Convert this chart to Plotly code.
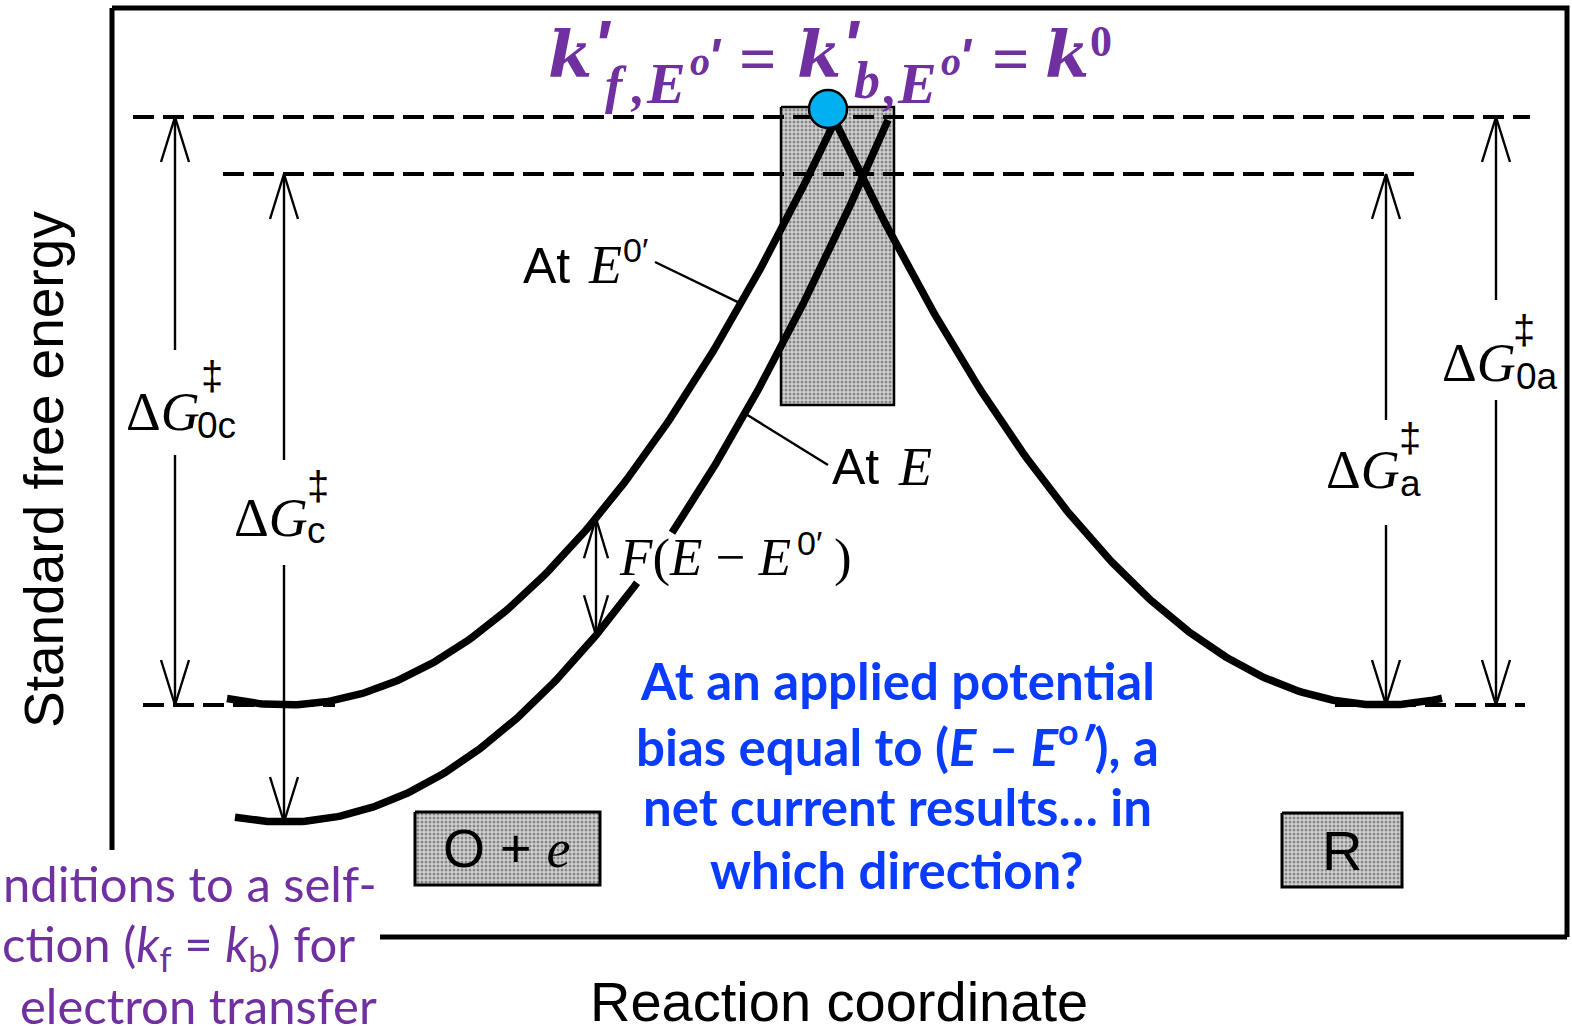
import numpy as np
import plotly.graph_objects as go

# ---- diagram data -------------------------------------------------------
# Reaction-coordinate positions of the wells and of the crossing at E0'
x_well_O = 285
x_well_R = 1383
x_cross_0 = 835

# Free energies (drawing units) of wells and reference levels
G_base = 0             # minima of O + e and R at E0'
G_well_O_at_E = -117   # O + e minimum lowered by F(E - E0')
G_cross_0 = 584        # crossing of the curves at E0'
G_level_0 = 588        # ΔG‡0 level
G_level_E = 531        # crossing level at E

# Horizontal extent of each free-energy curve
curve_O_E0_x = (227, x_cross_0)
curve_R_x = (x_cross_0, 1442)
curve_O_E_x = (235, 888)
curve_O_E_gap = (637, 672)

# Dashed reference levels (segments)
dash_G = [G_level_0, G_level_E, G_base, G_base]
dash_x0 = [133, 223, 143, 1335]
dash_x1 = [1530, 1420, 335, 1525]

# Barrier arrows: position, ends and the break left for the label
arrow_x = [175, 284, 1386, 1496]
arrow_top = [G_level_0, G_level_E, G_level_E, G_level_0]
arrow_bottom = [G_base, G_well_O_at_E, G_base, G_base]
arrow_gap = [(355, 250), (245, 140), (285, 180), (405, 305)]

# Labels of the barrier arrows: (ΔG left x, centre G, ‡ x, ‡ G, subscript, sub x, sub G)
barrier_labels = [
    (124, 293, 212, 329, "0c", 195, 280),
    (232, 187, 318, 219, "c", 305, 175),
    (1324, 235, 1410, 267, "a", 1398, 222),
    (1440, 342, 1524, 375, "0a", 1514, 329),
]

x_F_arrow = 596

# Curvatures fixed by the wells and the crossing at E0'
k_O = (G_cross_0 - G_base) / (x_cross_0 - x_well_O) ** 2
k_R = (G_cross_0 - G_base) / (x_cross_0 - x_well_R) ** 2


def G_O(x, shift=0.0):
    return shift + k_O * (np.asarray(x) - x_well_O) ** 2


def G_R(x):
    return G_base + k_R * (np.asarray(x) - x_well_R) ** 2


SANS = "Liberation Sans"
SERIF = "Liberation Serif"
PURPLE = "#7030A0"
BLUE = "#0A3CFF"

fig = go.Figure()


def add_line(xs, ys, width, dash=None):
    fig.add_trace(go.Scatter(x=xs, y=ys, mode="lines", hoverinfo="skip",
                             line=dict(color="black", width=width, dash=dash)))


def add_box(x0, x1, g0, g1, width=3):
    fig.add_trace(go.Scatter(
        x=[x0, x1, x1, x0, x0], y=[g0, g0, g1, g1, g0], mode="lines",
        fill="toself", hoverinfo="skip",
        fillcolor="#c4c4c4",
        fillpattern=dict(shape=".", fgcolor="#3c3c3c", bgcolor="#d2d2d2",
                         size=4, solidity=0.45),
        line=dict(color="black", width=width)))


def add_head(x, g_tip, direction, length=45, half=14):
    # open V arrowhead; direction +1 points up, -1 points down
    gb = g_tip - direction * length
    add_line([x - half, x, x + half], [gb, g_tip, gb], 2.4)


# shaded transition-state region
add_box(781, 894, 598, 300, width=2.5)

# frame
add_line([112, 112], [-145, 697], 5)
add_line([112, 1567, 1567], [697, 697, -232], 5)
add_line([380, 1567], [-232, -232], 5)

# dashed reference levels
for g, x0, x1 in zip(dash_G, dash_x0, dash_x1):
    add_line([x0, x1], [g, g], 4, dash="21px,9px")

# free-energy curves
xs = np.linspace(*curve_O_E0_x, 200)
add_line(xs, G_O(xs, G_base), 7.5)
xs = np.linspace(*curve_R_x, 200)
add_line(xs, G_R(xs), 7.5)
xa = np.linspace(curve_O_E_x[0], curve_O_E_gap[0], 150)
xb = np.linspace(curve_O_E_gap[1], curve_O_E_x[1], 150)
add_line(np.concatenate([xa, [None], xb]),
         np.concatenate([G_O(xa, G_well_O_at_E), [None], G_O(xb, G_well_O_at_E)]), 7.5)

# barrier arrows
for x, top, bot, (g_hi, g_lo) in zip(arrow_x, arrow_top, arrow_bottom, arrow_gap):
    add_line([x, x, None, x, x], [top, g_hi, None, g_lo, bot], 2.4)
    add_head(x, top, +1)
    add_head(x, bot, -1)

# F(E - E0') double arrow between the two O curves
g_up = float(G_O(x_F_arrow, G_base))
g_dn = float(G_O(x_F_arrow, G_well_O_at_E))
add_line([x_F_arrow, x_F_arrow], [g_up, g_dn], 2.4)
add_head(x_F_arrow, g_up, +1, length=40, half=12)
add_head(x_F_arrow, g_dn, -1, length=40, half=12)

# leader lines
add_line([655, 741], [443, float(G_O(741, G_base))], 2.4)
add_line([745, 828], [float(G_O(745, G_well_O_at_E)), 240], 2.4)

# reactant / product boxes
add_box(415, 600, -107, -180)
add_box(1282, 1402, -108, -182)

# rate-constant marker at the crossing
fig.add_trace(go.Scatter(x=[828], y=[596], mode="markers", hoverinfo="skip",
                         marker=dict(size=38, color="#00B0F0",
                                     line=dict(color="black", width=2.5))))

ann = []


def text(x, y, s, size, family=SANS, color="black", xanchor="left",
         yanchor="middle", angle=0):
    ann.append(dict(x=x, y=y, text=s, showarrow=False, xanchor=xanchor,
                    yanchor=yanchor, textangle=angle,
                    font=dict(family=family, size=size, color=color)))


# barrier labels
for dx, dg, hx, hg, sub, sx, sg in barrier_labels:
    text(dx, dg, "Δ<i>G</i>", 54, SERIF)
    text(hx, hg, "‡", 40, SANS, xanchor="center")
    text(sx, sg, sub, 37, SANS)

# curve labels
text(521, 439, "At", 50)
text(586, 440, "<i>E</i>", 54, SERIF)
text(621, 455, "0′", 34)
text(830, 238, "At", 50)
text(896, 238, "<i>E</i>", 54, SERIF)
text(617, 148, "<i>F</i>(<i>E</i> − <i>E</i>", 53, SERIF)
text(795, 162, "0′", 34)
text(832, 148, ")", 53, SERIF)

# axis titles
text(44, 235, "Standard free energy", 55, xanchor="center", angle=-90)
text(839, -296, "Reaction coordinate", 56, xanchor="center")

# species
text(507, -143, "O + <span style='font-family:Liberation Serif'><i>e</i></span>",
     54, xanchor="center")
text(1342, -145, "R", 56, xanchor="center")

# rate-constant equality, glyph by glyph
KFONT = "DejaVu Serif"
TICK = "Liberation Sans"
title_glyphs = [
    # (x, G, text, size, font, italic)
    (546, 652, "k", 64, KFONT, True), (591, 661, "'", 68, TICK, True),
    (603, 620, "f", 52, SERIF, True), (628, 619, ",", 52, SERIF, True),
    (644, 622, "E", 58, SERIF, True),
    (688, 644, "o", 40, SERIF, True), (706, 648, "'", 50, TICK, True),
    (737, 647, "=", 66, SERIF, False),
    (795, 652, "k", 64, KFONT, True), (840, 661, "'", 68, TICK, True),
    (852, 625, "b", 52, SERIF, True), (880, 619, ",", 52, SERIF, True),
    (895, 622, "E", 58, SERIF, True),
    (939, 644, "o", 40, SERIF, True), (957, 648, "'", 50, TICK, True),
    (990, 647, "=", 66, SERIF, False),
    (1043, 652, "k", 64, KFONT, True), (1088, 664, "0", 44, SERIF, False),
]
for x, g, s, size, fam, ital in title_glyphs:
    lab = "<b><i>" + s + "</i></b>" if ital else "<b>" + s + "</b>"
    text(x, g, lab, size, fam, PURPLE)

# question text
blue_lines = [
    "At an applied potential",
    "bias equal to (<i>E</i> – <i>E</i><sup>o</sup><i>′</i>), a",
    "net current results… in",
    "which direction?",
]
for s, g in zip(blue_lines, [25, -38, -101, -164]):
    text(897, g, "<b>" + s + "</b>", 51, "Lato", BLUE, xanchor="center")

# side note
purple_lines = [
    (1, -178, "nditions to a self-"),
    (0, -241, "ction (<i>k</i><sub>f</sub> = <i>k</i><sub>b</sub>) for"),
    (18, -300, "electron transfer"),
]
for x, g, s in purple_lines:
    text(x, g, s, 49, "Lato", PURPLE)

fig.update_layout(
    width=1572, height=1026,
    margin=dict(l=0, r=0, t=0, b=0),
    paper_bgcolor="white", plot_bgcolor="white",
    showlegend=False,
    xaxis=dict(range=[0, 1572], visible=False, fixedrange=True),
    yaxis=dict(range=[-321, 705], visible=False, fixedrange=True),
    annotations=ann,
)

fig.write_html("out.html")
